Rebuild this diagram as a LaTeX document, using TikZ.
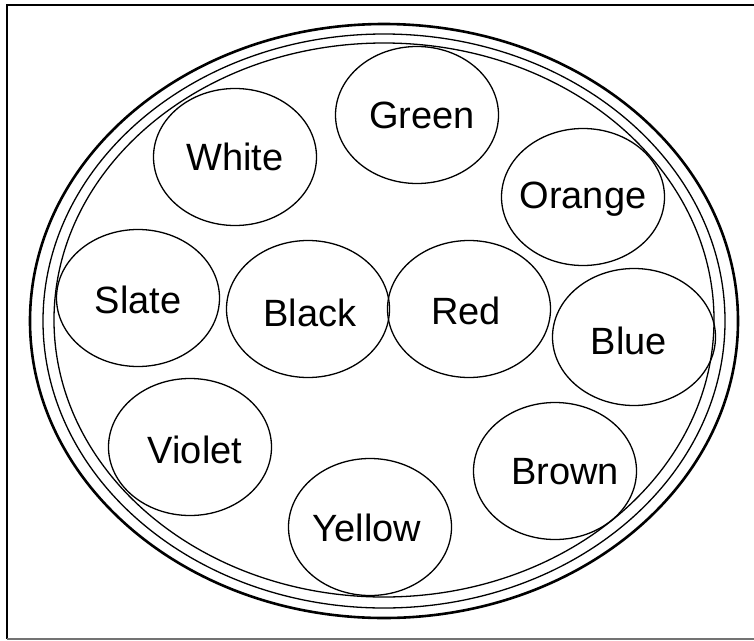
\documentclass[tikz,border=0pt]{standalone}
\usepackage{fontspec}
\setmainfont{Liberation Sans}
\usetikzlibrary{shapes.geometric}
\tikzset{
  wire/.style={ellipse, draw=black, line width=1.3pt, minimum width=163pt, minimum height=137pt, inner sep=0pt},
  tag/.style={font=\fontsize{38}{42}\selectfont, inner sep=0pt},
  rim/.style={draw=black, line width=1.3pt},
  rimthick/.style={draw=black, line width=2.6pt},
  frame/.style={draw=black, line width=1.6pt}
}
\begin{document}
\begin{tikzpicture}[x=1pt,y=-1pt]
\useasboundingbox (0,0) rectangle (754,640);
% frame
\draw[frame] (754,5) -- (7,5) -- (7,639);
\draw[draw=black!55, line width=1.4pt] (7,639) -- (754,639);
% jacket rings
\draw[rimthick] (384,321) ellipse [x radius=354, y radius=297];
\draw[rim] (384,321) ellipse [x radius=341, y radius=287];
\draw[rim] (384,320) ellipse [x radius=330, y radius=277];
% conductors
\node[wire, label={[tag]center:White}]              (white)  at (235,157) {};
\node[wire, label={[tag, xshift=5pt]center:Green}]  (green)  at (417,115) {};
\node[wire, label={[tag, yshift=-2pt]center:Orange}] (orange) at (583,197) {};
\node[wire, label={[tag, yshift=-2pt]center:Slate}]  (slate)  at (138,298) {};
\node[wire, label={[tag, xshift=2pt, yshift=-4pt]center:Black}] (black) at (308,309) {};
\node[wire, label={[tag, xshift=-3pt, yshift=-2pt]center:Red}]  (red)   at (469,309) {};
\node[wire, label={[tag, xshift=-5pt, yshift=-4pt]center:Blue}] (blue)  at (634,337) {};
\node[wire, label={[tag, xshift=5pt, yshift=-3pt]center:Violet}] (violet) at (190,447) {};
\node[wire, label={[tag, xshift=-3pt, yshift=-1pt]center:Yellow}] (yellow) at (370,527) {};
\node[wire, label={[tag, xshift=10pt, yshift=-1pt]center:Brown}]  (brown)  at (555,471) {};
\end{tikzpicture}
\end{document}
